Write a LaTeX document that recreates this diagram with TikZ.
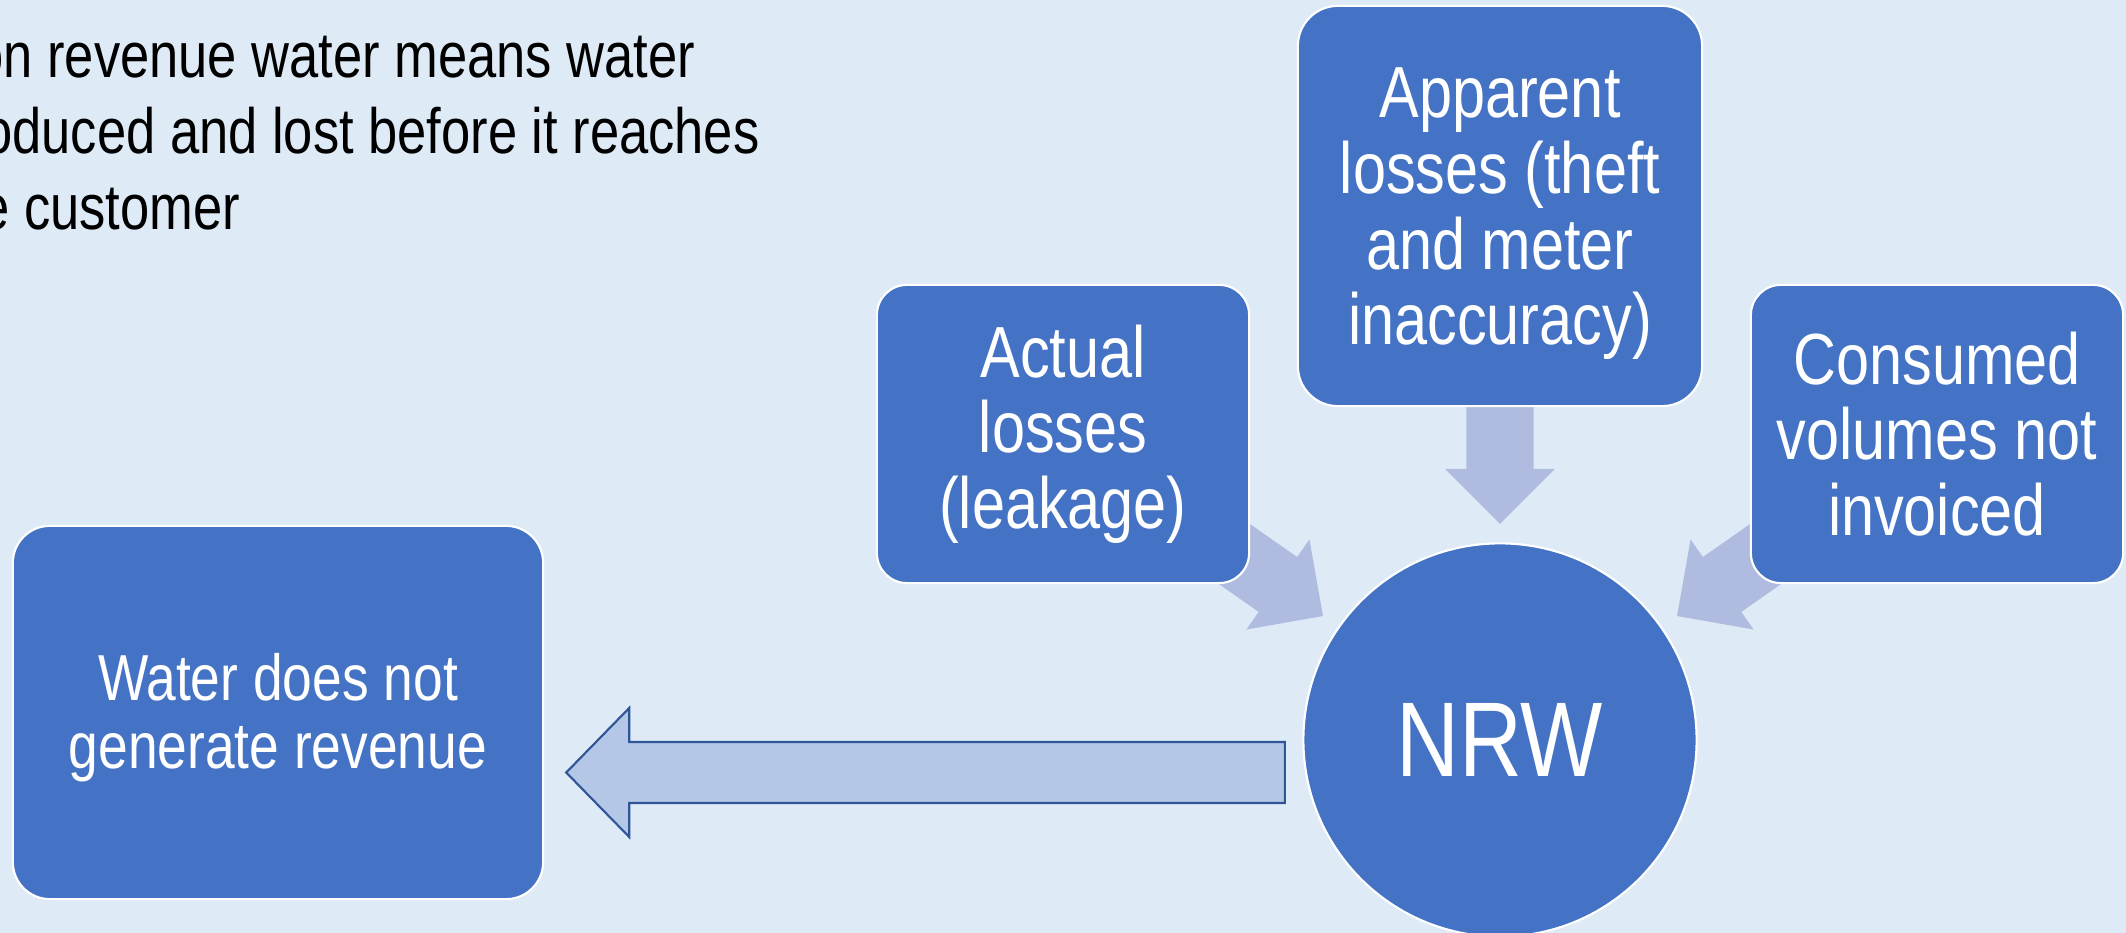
\documentclass[tikz,border=0pt]{standalone}
\usepackage{fontspec}
\setmainfont{Liberation Sans}[FakeStretch=0.82]
\usetikzlibrary{calc}

\definecolor{pagebg}{HTML}{DEEBF7}
\definecolor{boxblue}{HTML}{4472C4}
\definecolor{feedarrow}{HTML}{B0BCDF}
\definecolor{outarrow}{HTML}{B4C7E7}
\definecolor{outedge}{HTML}{2F5597}

\pgfdeclarelayer{bglayer}
\pgfdeclarelayer{arrowlayer}
\pgfsetlayers{bglayer,arrowlayer,main}

% block arrow: #1 style, #2 tail, #3 tip, #4 half shaft width,
% #5 half head width, #6 head length
\newcommand\blockarrow[6]{%
  \coordinate (arrowneck) at ($(#3)!#6!(#2)$);
  \path[#1] ($(#2)!#4!90:(#3)$) -- ($(arrowneck)!#4!90:(#3)$)
    -- ($(arrowneck)!#5!90:(#3)$) -- (#3)
    -- ($(arrowneck)!#5!-90:(#3)$) -- ($(arrowneck)!#4!-90:(#3)$)
    -- ($(#2)!#4!-90:(#3)$) -- cycle;
}

\tikzset{
  box/.style={draw=white, line width=0.6pt, fill=boxblue, rounded corners=#1,
    inner sep=0pt, text=white, align=center},
  toptext/.style={font=\fontsize{20.6}{21.5}\selectfont},
  boxlabel/.style={text=white, align=center, inner sep=0pt},
  feed/.style={fill=feedarrow},
  result/.style={fill=outarrow, draw=outedge, line width=0.6pt, line join=miter}
}

\begin{document}
\begin{tikzpicture}[x=0.01cm,y=0.01cm]
  \begin{pgfonlayer}{bglayer}
    \fill[pagebg] (0,0) rectangle (2126,933);
  \end{pgfonlayer}
  \useasboundingbox (0,0) rectangle (2126,933);
  \clip (0,0) rectangle (2126,933);

  % introductory sentence
  \node[anchor=base west, inner sep=0pt, font=\fontsize{18.2}{21.6}\selectfont] (intro)
    at (-64,855) {\begin{tabular}[t]{@{}l@{}}Non revenue water means water\\
      produced and lost before it reaches\\ the customer\end{tabular}};

  % centre circle
  \node[circle, fill=boxblue, draw=white, line width=0.6pt, minimum size=3.93cm,
    inner sep=0pt, text=white, font=\fontsize{30.2}{36}\selectfont] (nrw) at (1500,193) {NRW};

  % contributing components
  \node[box=0.4cm, minimum width=4.04cm, minimum height=4.0cm,
    label={[boxlabel, toptext, yshift=-0.08cm]center:Apparent\\losses (theft\\and meter\\inaccuracy)}]
    (apparent) at (1500,727) {};
  \node[box=0.3cm, toptext, minimum width=3.72cm, minimum height=2.98cm] (actual)
    at (1063,499) {Actual\\losses\\(leakage)};
  \node[box=0.3cm, toptext, minimum width=3.72cm, minimum height=2.98cm] (consumed)
    at (1937,499) {Consumed\\volumes not\\invoiced};

  % consequence
  \node[box=0.37cm, minimum width=5.3cm, minimum height=3.73cm,
    label={[boxlabel, font=\fontsize{18.5}{19.4}\selectfont, yshift=-0.05cm]center:Water does not\\generate revenue}]
    (water) at (278,220.5) {};

  % arrows converging on the circle
  \begin{pgfonlayer}{arrowlayer}
    \foreach \src in {apparent,actual,consumed}{
      \coordinate (tail-\src) at ($(nrw.center)!3.41cm!(\src.center)$);
      \coordinate (tip-\src) at ($(nrw.center)!2.16cm!(\src.center)$);
      \blockarrow{feed}{tail-\src}{tip-\src}{0.335cm}{0.55cm}{0.55cm}
    }
  \end{pgfonlayer}

  % outcome arrow
  \coordinate (outtail) at ($(nrw.west)+(-17.5,-32.5)$);
  \coordinate (outtip) at ($(water.east)+(22,-60)$);
  \blockarrow{result}{outtail}{outtip}{0.305cm}{0.645cm}{0.63cm}
\end{tikzpicture}
\end{document}
